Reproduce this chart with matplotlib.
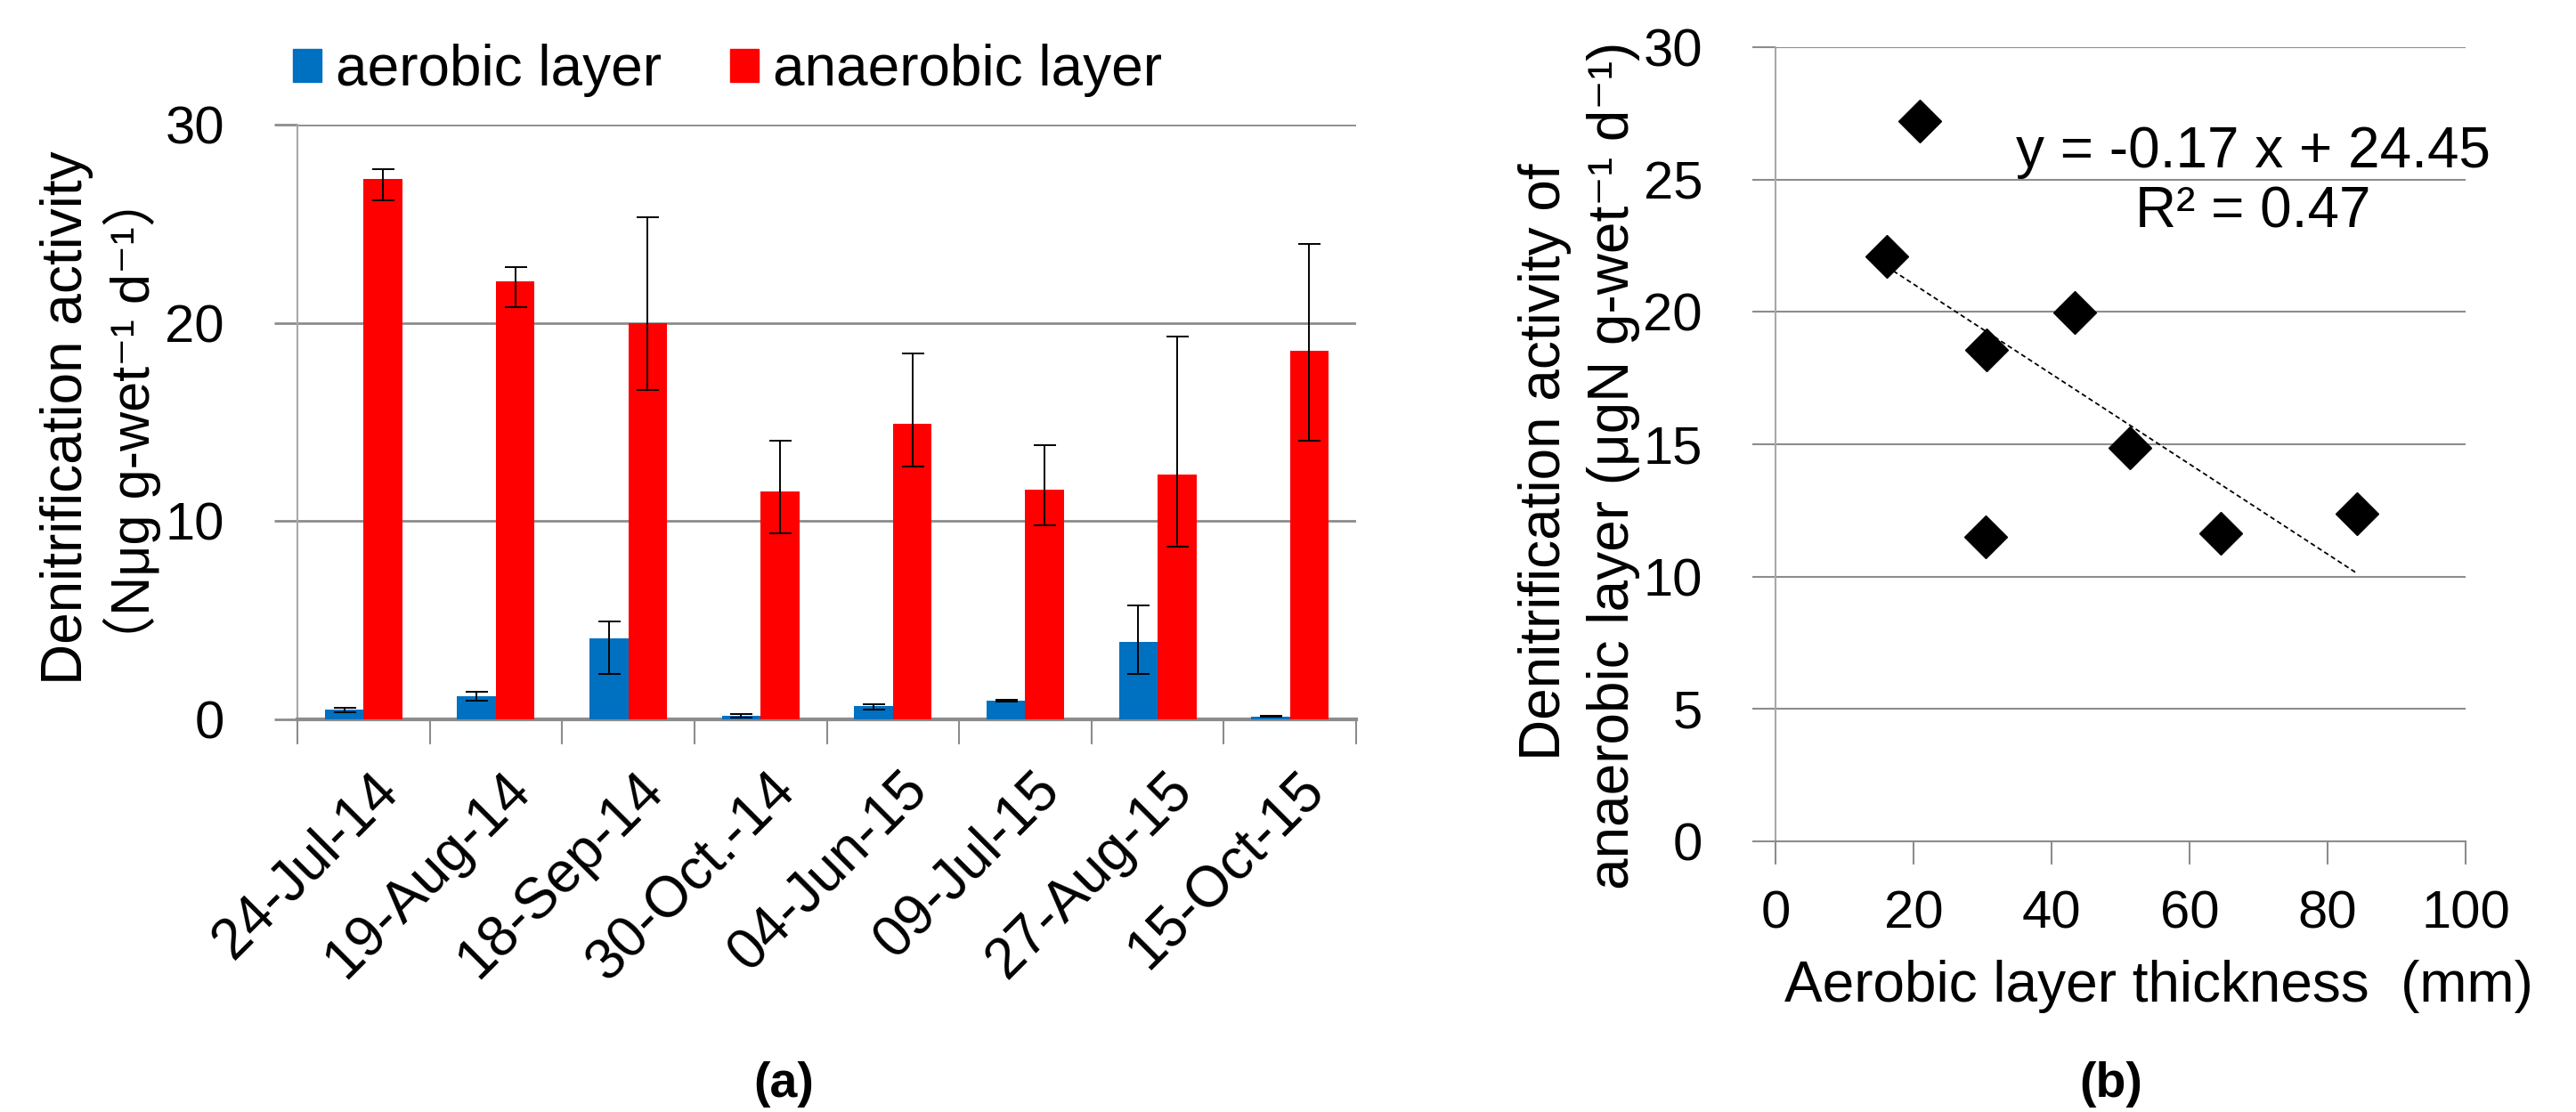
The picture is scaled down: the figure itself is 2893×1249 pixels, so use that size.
import matplotlib
matplotlib.use('Agg')
import matplotlib.pyplot as plt
import matplotlib.transforms as mtransforms
from matplotlib.patches import Patch
import numpy as np

# sampling dates
dates = ['24-Jul-14', '19-Aug-14', '18-Sep-14', '30-Oct.-14',
         '04-Jun-15', '09-Jul-15', '27-Aug-15', '15-Oct-15']
aerobic = [0.49, 1.17, 4.07, 0.17, 0.68, 0.95, 3.92, 0.15]
aerobic_lo = [0.37, 0.93, 2.29, 0.07, 0.51, 0.90, 2.29, 0.12]
aerobic_hi = [0.58, 1.41, 4.96, 0.27, 0.75, 1.00, 5.75, 0.18]
anaerobic = [27.25, 22.11, 20.0, 11.49, 14.9, 11.59, 12.34, 18.59]
anaerobic_lo = [26.18, 20.8, 16.62, 9.40, 12.76, 9.79, 8.73, 14.04]
anaerobic_hi = [27.76, 22.82, 25.32, 14.05, 18.46, 13.85, 19.3, 23.97]

# panel (b): thickness vs anaerobic activity
thickness = [16.1, 20.9, 30.6, 30.4, 43.4, 51.4, 64.5, 84.2]
activity = [22.1, 27.2, 18.57, 11.49, 19.98, 14.88, 11.62, 12.37]
slope, intercept, r2 = -0.17, 24.45, 0.47

fam = ['Liberation Sans', 'DejaVu Sans', 'Noto Sans CJK JP']
plt.rcParams['font.family'] = fam

W, H = 2893, 1249
fig = plt.figure(figsize=(W / 100, H / 100), dpi=100)

blue = '#0070C0'
red = '#FF0000'
grid_c = '#8c8c8c'

# ---- panel (a) ----
ax = fig.add_axes([334 / W, 1 - 808 / H, (1523 - 334) / W, (808 - 140) / H])
x = np.arange(len(dates))
w = 0.293
ekw = dict(ecolor='black', elinewidth=1.4, capsize=9, capthick=1.4)
a_err = [np.subtract(aerobic, aerobic_lo), np.subtract(aerobic_hi, aerobic)]
n_err = [np.subtract(anaerobic, anaerobic_lo), np.subtract(anaerobic_hi, anaerobic)]
ax.bar(x - w / 2, aerobic, w, color=blue, yerr=a_err, error_kw=ekw, zorder=3)
ax.bar(x + w / 2, anaerobic, w, color=red, yerr=n_err, error_kw=ekw, zorder=3)
ax.set_xlim(-0.5, len(dates) - 0.5)
ax.set_ylim(0, 30)
ax.set_yticks([0, 10, 20, 30])
ax.tick_params(axis='y', labelsize=43, length=19, color=grid_c, width=2, pad=40)
ax.yaxis.grid(True, color=grid_c, linewidth=2, zorder=0)
ax.set_xticks(x)
ax.set_xticklabels(dates, rotation=45, ha='right', va='top', rotation_mode='anchor', fontsize=46)
ax.tick_params(axis='x', length=0, pad=35)
shift = mtransforms.ScaledTranslation(8 / 100, 0, fig.dpi_scale_trans)
for lab in ax.get_xticklabels():
    lab.set_transform(lab.get_transform() + shift)
ax.set_xticks(np.arange(-0.5, len(dates)), minor=True)
ax.tick_params(axis='x', which='minor', length=20, color=grid_c, width=1.5)
for s in ['top', 'right']:
    ax.spines[s].set_visible(False)
ax.spines['left'].set_color('#a8a8a8')
ax.spines['left'].set_linewidth(1.5)
ax.spines['bottom'].set_color(grid_c)
ax.spines['bottom'].set_linewidth(3)

fig.text(75 / W, 1 - 469 / H, 'Denitrification activity', rotation=90,
         ha='center', va='center', fontsize=46)
fig.text(148 / W, 1 - 473 / H, '（Nμg g-wet⁻¹ d⁻¹）', rotation=90,
         ha='center', va='center', fontsize=44)

handles = [Patch(color=blue, label='aerobic layer'), Patch(color=red, label='anaerobic layer')]
fig.legend(handles=handles, loc='center', bbox_to_anchor=(817 / W, 1 - 79 / H), ncol=2,
           frameon=False, prop={'size': 46}, borderpad=0,
           handlelength=0.5, handleheight=0.5, handletextpad=0.25, columnspacing=1.2)

fig.text(880 / W, 1 - 1218 / H, '(a)', ha='center', va='center', fontsize=40, fontweight='bold')

# ---- panel (b) ----
ax2 = fig.add_axes([1994 / W, 1 - 945 / H, (2769 - 1994) / W, (945 - 53) / H])
ax2.plot(thickness, activity, linestyle='none', marker='D', markersize=24,
         color='black', zorder=3)
xs = np.array([min(thickness), max(thickness)])
ax2.plot(xs, slope * xs + intercept, linestyle=(0, (3, 2)), color='black', linewidth=1.3, zorder=2)
ax2.set_xlim(0, 100)
ax2.set_ylim(0, 30)
ax2.set_xticks(range(0, 101, 20))
ax2.set_yticks(range(0, 31, 5))
ax2.tick_params(labelsize=43, length=19, color=grid_c, width=1.5)
ax2.tick_params(axis='x', pad=20)
ax2.tick_params(axis='y', pad=40)
ax2.yaxis.grid(True, color=grid_c, linewidth=1.5, zorder=0)
for s in ['top', 'right']:
    ax2.spines[s].set_visible(False)
ax2.spines['left'].set_color('#a8a8a8')
ax2.spines['left'].set_linewidth(1.5)
ax2.spines['bottom'].set_color(grid_c)
ax2.spines['bottom'].set_linewidth(1.5)
ax2.text(69.2, 24.9, f'y = {slope:.2f} x + {intercept:.2f}\nR² = {r2:.2f}',
         ha='center', va='center', multialignment='center', fontsize=46, linespacing=1.15)

fig.text(2424 / W, 1 - 1108 / H, 'Aerobic layer thickness  (mm)',
         ha='center', va='center', fontsize=46)
fig.text(1735 / W, 1 - 519 / H, 'Denitrification activity of', rotation=90,
         ha='center', va='center', fontsize=46)
fig.text(1812 / W, 1 - 523 / H, 'anaerobic layer (μgN g-wet⁻¹ d⁻¹)', rotation=90,
         ha='center', va='center', fontsize=46)

fig.text(2371 / W, 1 - 1218 / H, '(b)', ha='center', va='center', fontsize=40, fontweight='bold')

fig.savefig('out.png', dpi=100)
